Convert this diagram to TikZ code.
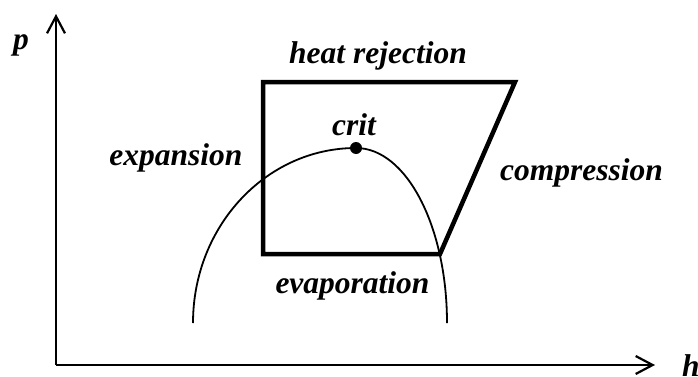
\documentclass[tikz,border=0pt]{standalone}
\usepackage{fontspec}
\setmainfont{Liberation Serif}
\usetikzlibrary{arrows.meta}
\begin{document}
\begin{tikzpicture}[x=1pt,y=1pt,
  lbl/.style={anchor=base,inner sep=0pt,font=\fontsize{31.5}{36}\selectfont\bfseries\itshape},
  axis/.style={line width=2.2pt,-{Straight Barb[length=17pt,width=18pt,line width=2.2pt]}},
  cyc/.style={line width=4.5pt,line join=miter},
  dome/.style={line width=1.8pt}]
\useasboundingbox (0,0) rectangle (698,376);
% axes
\coordinate (O) at (56,11);
\coordinate (Ptip) at (56,362);
\coordinate (Htip) at (655,11);
\draw[axis] (O) -- (Ptip);
\draw[axis] (O) -- (Htip);
\node[lbl] (p) at (21,327) {p};
\node[lbl,anchor=base west] (h) at (682,0) {h};
% dome
\coordinate (F1) at (193,53);
\coordinate (C) at (356,228);
\draw[dome] (F1) arc[start angle=180,end angle=90,x radius=163,y radius=175]
  arc[start angle=90,end angle=0,x radius=91,y radius=175];
\fill (C) circle[radius=6];
% cycle
\coordinate (TL) at (263,294);
\coordinate (TR) at (515,294);
\coordinate (BR) at (440,122);
\coordinate (BL) at (263,122);
\draw[cyc] (BL) -- (TL) -- (TR) -- (BR) -- cycle;
% labels
\node[lbl] (hr) at (378,313) {heat rejection};
\node[lbl] (ex) at (176,211) {expansion};
\node[lbl] (co) at (581.5,196) {compression};
\node[lbl] (cr) at (354,241) {crit};
\node[lbl] (ev) at (352.5,83) {evaporation};
\end{tikzpicture}
\end{document}
